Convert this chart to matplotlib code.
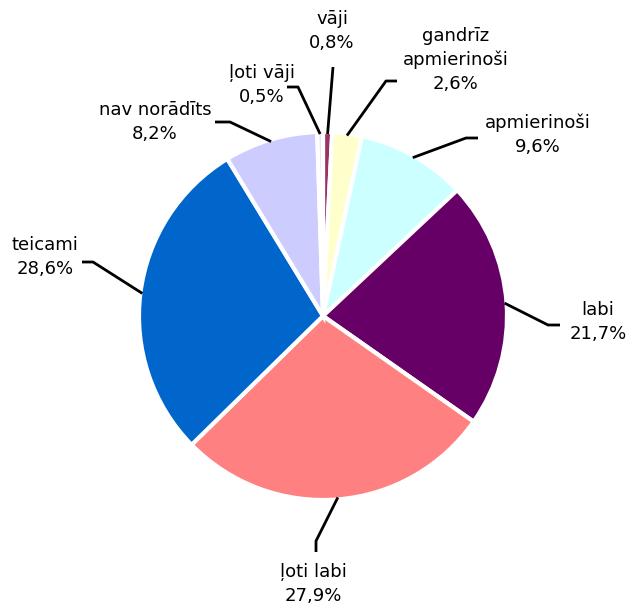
import matplotlib.pyplot as plt
import numpy as np

# data (clockwise from 12 o'clock)
labels = ['vāji', 'gandrīz\napmierinoši', 'apmierinoši', 'labi',
          'ļoti labi', 'teicami', 'nav norādīts', 'ļoti vāji']
pct_text = ['0,8%', '2,6%', '9,6%', '21,7%', '27,9%', '28,6%', '8,2%', '0,5%']
values = [0.8, 2.6, 9.6, 21.7, 27.9, 28.6, 8.2, 0.5]
colors = ['#993366', '#FFFFCC', '#CCFFFF', '#660066',
          '#FF8080', '#0066CC', '#CCCCFF', '#E4E4FF']

W, H = 629, 605
cx, cy, r = 323, H - 316, 184

fig = plt.figure(figsize=(W / 100, H / 100), dpi=100)
ax = fig.add_axes([0, 0, 1, 1])

ax.pie(values, colors=colors, startangle=90, counterclock=False,
       center=(cx, cy), radius=r,
       wedgeprops=dict(edgecolor='white', linewidth=3))
ax.set_xlim(0, W)
ax.set_ylim(0, H)
ax.set_aspect('equal')
ax.axis('off')

# label anchors (text centre) and leader elbow/end, in pixel coords from top
text_pos = [(332, 31), (456, 60), (538, 135), (598, 322),
            (313, 584), (45, 257), (155, 122), (262, 85)]
elbows = [(333, 67), (386, 81), (466, 138), (548, 325),
          (316, 541), (93, 262), (230, 122), (298, 87)]
ends = [None, (397, 81), (478, 138), (560, 325),
        (316, 552), (82, 262), (215, 122), (287, 87)]

# start point of each leader: on the rim at the middle angle of the slice
cum = np.cumsum([0] + values)
total = sum(values)
for i in range(len(values)):
    mid = 90 - 360 * (cum[i] + cum[i + 1]) / 2 / total
    a = np.deg2rad(mid)
    sx, sy = cx + (r - 2) * np.cos(a), cy + (r - 2) * np.sin(a)
    ex, ey = elbows[i]
    xs = [sx, ex]
    ys = [sy, H - ey]
    if ends[i] is not None:
        xs.append(ends[i][0])
        ys.append(H - ends[i][1])
    ax.plot(xs, ys, color='black', lw=2, solid_capstyle='butt')
    tx, ty = text_pos[i]
    ax.text(tx, H - ty, labels[i] + '\n' + pct_text[i], ha='center', va='center',
            fontsize=13, linespacing=1.4, family='DejaVu Sans')

fig.savefig('out.png', dpi=100)
